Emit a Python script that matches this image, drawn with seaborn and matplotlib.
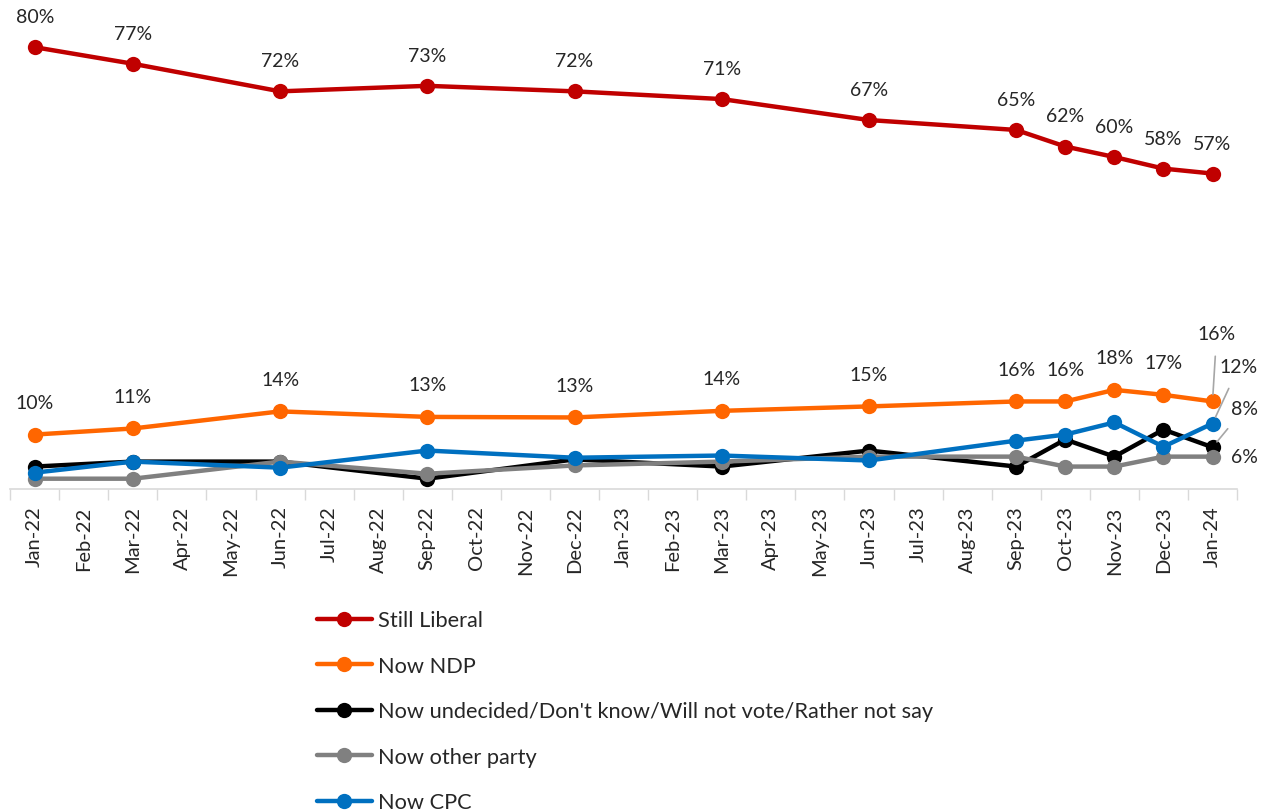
import pandas as pd
import numpy as np
import matplotlib.pyplot as plt
import seaborn as sns

months = ["Jan-22", "Feb-22", "Mar-22", "Apr-22", "May-22", "Jun-22", "Jul-22", "Aug-22",
          "Sep-22", "Oct-22", "Nov-22", "Dec-22", "Jan-23", "Feb-23", "Mar-23", "Apr-23",
          "May-23", "Jun-23", "Jul-23", "Aug-23", "Sep-23", "Oct-23", "Nov-23", "Dec-23", "Jan-24"]
survey_months = ["Jan-22", "Mar-22", "Jun-22", "Sep-22", "Dec-22", "Mar-23", "Jun-23",
                 "Sep-23", "Oct-23", "Nov-23", "Dec-23", "Jan-24"]

still_liberal = [80, 77, 72, 73, 72, 70.6, 66.8, 65, 62, 60.1, 58, 57.1]
now_ndp = [9.8, 10.9, 14, 13, 12.9, 14.1, 14.9, 15.8, 15.8, 17.9, 17, 15.8]
now_undecided = [4, 4.9, 4.9, 1.8, 5.3, 4, 6.9, 4, 8.9, 5.8, 10.7, 7.5]
now_other = [1.8, 1.8, 4.9, 2.7, 4.2, 4.9, 5.8, 5.8, 4, 4, 5.8, 5.8]
now_cpc = [2.9, 4.9, 3.8, 6.9, 5.6, 6, 5.1, 8.7, 9.8, 12, 7.6, 11.8]

liberal_labels = ["80%", "77%", "72%", "73%", "72%", "71%", "67%", "65%", "62%", "60%", "58%", "57%"]
ndp_labels = ["10%", "11%", "14%", "13%", "13%", "14%", "15%", "16%", "16%", "18%", "17%", "16%"]

series_names = ["Still Liberal", "Now NDP", "Now undecided/Don't know/Will not vote/Rather not say",
                "Now other party", "Now CPC"]
series_values = [still_liberal, now_ndp, now_undecided, now_other, now_cpc]
colors = ["#C00000", "#FF6600", "#000000", "#808080", "#0070C0"]

sns.set_style("white")
plt.rcParams['font.family'] = ['Lato', 'DejaVu Sans']

x_pos = [months.index(m) for m in survey_months]

fig = plt.figure(figsize=(12.74, 8.12), dpi=100)
ax = fig.add_axes([0.008, 0.397, 0.963, 0.598])

for name, vals, c in zip(series_names, series_values, colors):
    df = pd.DataFrame({"x": x_pos, "y": vals})
    sns.lineplot(data=df, x="x", y="y", ax=ax, color=c, linewidth=3.2, marker="o",
                 markersize=11, markeredgewidth=0, label=name)

# data labels
for x, v, lab in zip(x_pos, still_liberal, liberal_labels):
    ax.annotate(lab, (x, v), xytext=(0, 22), textcoords="offset points",
                ha="center", va="center", fontsize=14)
for x, v, lab in zip(x_pos[:-1], now_ndp[:-1], ndp_labels[:-1]):
    ax.annotate(lab, (x, v), xytext=(0, 23), textcoords="offset points",
                ha="center", va="center", fontsize=14)

last = x_pos[-1]
lead = dict(arrowstyle="-", color="#A6A6A6", lw=1.2, shrinkA=8, shrinkB=5)
ax.annotate(ndp_labels[-1], (last, now_ndp[-1]), xytext=(3, 49), textcoords="offset points",
            ha="center", va="center", fontsize=14, arrowprops=lead)
ax.annotate("12%", (last, now_cpc[-1]), xytext=(19, 41), textcoords="offset points",
            ha="center", va="center", fontsize=14, arrowprops=lead)
ax.annotate("8%", (last, now_undecided[-1]), xytext=(23, 28), textcoords="offset points",
            ha="center", va="center", fontsize=14, arrowprops=lead)
ax.annotate("6%", (last, now_other[-1]), xytext=(23, 0), textcoords="offset points",
            ha="center", va="center", fontsize=14)

ax.set_xlim(-0.47, 24.47)
ax.set_ylim(0, 88)
ax.set_xticks(range(len(months)))
ax.set_xticklabels(months, rotation=90, fontsize=14.5)
ax.set_xticks(np.arange(-0.5, 25, 1), minor=True)
ax.tick_params(axis="x", which="major", length=0, pad=12)
ax.tick_params(axis="x", which="minor", length=8, color="#D9D9D9", width=1, bottom=True)
ax.set_yticks([])
ax.set_xlabel("")
ax.set_ylabel("")
for s in ["top", "right", "left"]:
    ax.spines[s].set_visible(False)
ax.spines["bottom"].set_color("#D9D9D9")
ax.spines["bottom"].set_linewidth(1.2)

ax.legend(loc="upper left", bbox_to_anchor=(0.249, 0.247), bbox_transform=fig.transFigure,
          frameon=False, fontsize=15.7, handlelength=2.5, labelspacing=1.17,
          handletextpad=0.3, borderpad=0, borderaxespad=0)

plt.savefig("out.png", dpi=100)
